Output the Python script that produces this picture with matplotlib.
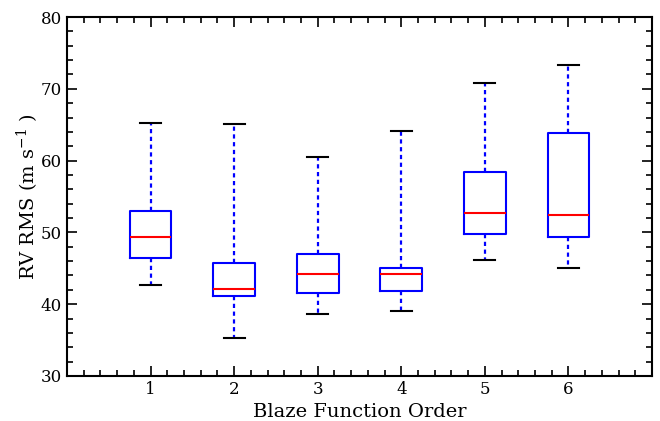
import matplotlib
matplotlib.use("Agg")
import matplotlib.pyplot as plt
from matplotlib.ticker import MultipleLocator

orders = [1, 2, 3, 4, 5, 6]
whislo = [42.7, 35.3, 38.6, 39.1, 46.2, 45.1]
q1 = [46.4, 41.2, 41.5, 41.9, 49.8, 49.4]
med = [49.3, 42.1, 44.2, 44.2, 52.7, 52.4]
q3 = [53.0, 45.8, 47.0, 45.0, 58.4, 63.8]
whishi = [65.3, 65.1, 60.5, 64.1, 70.8, 73.3]

plt.rcParams['font.family'] = 'DejaVu Serif'
plt.rcParams['mathtext.fontset'] = 'dejavuserif'

fig = plt.figure(figsize=(6.6, 4.21), dpi=100)
ax = fig.add_axes([67/660, 1-376/421, (652-67)/660, (376-17)/421])

stats = []
for i in range(len(orders)):
    stats.append(dict(label=str(orders[i]), whislo=whislo[i], q1=q1[i], med=med[i],
                      q3=q3[i], whishi=whishi[i], fliers=[]))

ax.bxp(stats, positions=orders, widths=0.5, showfliers=False,
       boxprops=dict(color='blue', linewidth=1.5),
       medianprops=dict(color='red', linewidth=1.5),
       whiskerprops=dict(color='blue', linewidth=1.6, linestyle=(0, (1.9, 1.6))),
       capprops=dict(color='black', linewidth=1.5))

ax.set_xlim(0, 7)
ax.set_ylim(30, 80)
ax.set_xticks(orders)
ax.set_xticklabels([str(o) for o in orders])
ax.xaxis.set_minor_locator(MultipleLocator(0.2))
ax.yaxis.set_major_locator(MultipleLocator(10))
ax.yaxis.set_minor_locator(MultipleLocator(2))
ax.tick_params(which='both', direction='in', top=True, right=True, labelsize=12, width=1.2)
ax.tick_params(which='major', length=7)
ax.tick_params(which='minor', length=4)
for s in ax.spines.values():
    s.set_linewidth(1.5)

ax.set_xlabel('Blaze Function Order', fontsize=14)
ax.set_ylabel(r'RV RMS (m s$^{-1}$ )', fontsize=14, labelpad=0)

fig.savefig('out.png', dpi=100)
